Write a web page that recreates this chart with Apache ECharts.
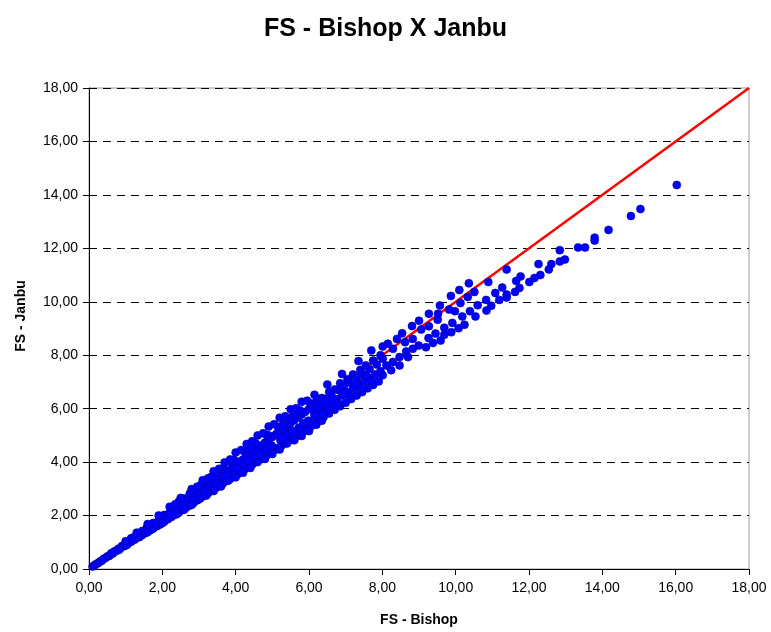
<!DOCTYPE html>
<html>
<head>
<meta charset="utf-8">
<script src="https://cdn.jsdelivr.net/npm/echarts@6/dist/echarts.min.js"></script>
<style>html,body{margin:0;padding:0;background:#fff}#c{width:771px;height:632px}</style>
</head>
<body>
<div id="c"></div>
<script>
// Data: [FS Bishop, FS Janbu]
const seg0to2 = [[0.10,0.09],[0.15,0.14],[0.20,0.19],[0.25,0.22],[0.30,0.28],[0.35,0.31],[0.40,0.38],[0.45,0.41],[0.50,0.47],[0.55,0.49],[0.60,0.57],[0.65,0.58],[0.70,0.66],[0.75,0.68],[0.80,0.76],[0.85,0.77],[0.90,0.86],[0.95,0.85],[1.00,0.95],[1.05,0.93],[1.10,1.05],[1.15,1.02],[1.20,1.14],[1.25,1.10],[1.30,1.24],[1.35,1.19],[1.40,1.33],[1.45,1.27],[1.50,1.43],[1.55,1.35],[1.60,1.52],[1.65,1.44],[1.70,1.62],[1.75,1.52],[1.80,1.71],[1.85,1.60],[1.90,1.82],[1.95,1.68],[2.00,1.93],[2.05,1.77],[0.62,0.60],[1.02,0.89],[1.38,1.20],[1.72,1.49],[1.58,1.55],[1.22,1.18],[0.82,0.72],[1.92,1.66],[2.10,1.86],[1.15,1.15],[1.45,1.42],[1.75,1.72],[2.05,2.02],[2.30,2.28],[1.25,1.16],[1.55,1.44],[1.85,1.72],[2.15,2.00],[2.40,2.23]];
const seg2to4 = [[2.10,2.02],[2.15,1.86],[2.20,2.10],[2.25,1.95],[2.30,2.20],[2.35,2.03],[2.40,2.30],[2.45,2.11],[2.50,2.40],[2.55,2.21],[2.60,2.49],[2.65,2.30],[2.70,2.58],[2.75,2.38],[2.80,2.69],[2.85,2.47],[2.90,2.79],[2.95,2.57],[3.00,2.88],[3.05,2.66],[3.10,2.98],[3.15,2.75],[3.20,3.08],[3.25,2.84],[3.30,3.18],[3.35,2.93],[3.40,3.28],[3.45,3.02],[3.50,3.38],[3.55,3.11],[3.60,3.49],[3.65,3.20],[3.70,3.58],[3.75,3.29],[3.80,3.69],[3.85,3.37],[3.90,3.79],[3.95,3.46],[4.00,3.90],[4.05,3.55],[2.22,2.02],[2.48,2.28],[2.72,2.49],[2.98,2.74],[3.22,2.97],[3.48,3.20],[3.72,3.44],[3.98,3.67],[2.60,2.64],[3.10,3.15],[3.60,3.68],[3.90,3.99],[2.45,2.52],[2.75,2.83],[3.05,3.14],[3.35,3.46],[3.65,3.76],[3.95,4.08],[2.55,2.37],[2.85,2.65],[3.15,2.93],[3.45,3.21],[3.75,3.49],[3.00,2.61],[3.80,3.31]];
const seg4to6 = [[4.10,4.02],[4.15,3.65],[4.20,4.10],[4.25,3.74],[4.30,4.22],[4.35,3.82],[4.40,4.31],[4.45,3.91],[4.50,4.42],[4.55,4.00],[4.60,4.52],[4.65,4.09],[4.70,4.62],[4.75,4.18],[4.80,4.73],[4.85,4.26],[4.90,4.83],[4.95,4.35],[5.00,4.94],[5.05,4.44],[5.10,5.04],[5.15,4.53],[5.20,5.15],[5.25,4.62],[5.30,5.25],[5.35,4.71],[5.40,5.36],[5.45,4.80],[5.50,5.46],[5.55,4.88],[5.60,5.57],[5.65,4.97],[5.70,5.67],[5.75,5.06],[5.80,5.78],[5.85,5.15],[5.90,5.88],[5.95,5.24],[6.00,5.99],[6.05,5.33],[4.22,3.94],[4.48,4.16],[4.72,4.37],[4.98,4.62],[5.22,4.83],[5.48,5.07],[5.72,5.29],[5.98,5.55],[4.35,4.08],[4.85,4.52],[5.35,4.98],[5.85,5.43],[4.40,4.50],[4.90,5.00],[5.30,5.42],[5.70,5.86],[6.05,6.20],[5.55,5.70],[4.25,4.39],[4.55,4.70],[4.85,5.01],[5.15,5.32],[5.45,5.63],[5.75,5.94],[4.05,3.77],[4.35,4.05],[4.65,4.33],[4.95,4.61],[5.25,4.89],[5.55,5.17],[5.85,5.45],[4.60,4.00],[5.40,4.70]];
const seg6to8 = [[6.10,6.08],[6.20,6.25],[6.30,6.22],[6.35,6.40],[6.45,6.36],[6.55,6.62],[6.60,6.50],[6.70,6.72],[6.80,6.70],[6.85,6.95],[6.95,6.85],[7.05,7.10],[7.10,6.98],[7.20,7.28],[7.30,7.15],[7.40,7.45],[7.45,7.30],[7.55,7.62],[7.65,7.48],[7.75,7.80],[7.85,7.65],[7.95,8.00],[6.15,5.82],[6.30,5.95],[6.45,6.08],[6.60,6.22],[6.75,6.35],[6.90,6.49],[7.05,6.62],[7.20,6.75],[7.35,6.88],[7.50,7.02],[7.65,7.15],[7.80,7.28],[7.95,7.40],[6.10,5.42],[6.25,5.55],[6.40,5.69],[6.55,5.82],[6.70,5.96],[6.85,6.09],[7.00,6.22],[7.15,6.36],[7.30,6.49],[7.45,6.62],[7.60,6.76],[7.75,6.89],[7.90,7.02],[6.20,5.70],[6.50,5.95],[6.80,6.20],[7.10,6.48],[7.40,6.75],[7.70,7.02],[6.15,5.73],[6.20,5.40],[6.25,6.00],[6.45,6.25],[6.65,6.40],[6.35,5.80],[6.55,6.00],[6.75,6.15],[6.95,6.55],[7.25,6.95],[7.55,7.25]];
const bandUpperEdge = [[1.00,1.04],[1.30,1.36],[1.60,1.68],[1.90,2.00],[2.20,2.33],[2.50,2.66],[2.80,2.99],[3.10,3.32],[3.40,3.66],[3.70,3.99],[4.00,4.36],[4.30,4.68],[4.60,5.00],[4.90,5.33],[5.20,5.66],[5.50,5.98],[5.80,6.26],[6.15,6.52],[6.50,6.90],[6.90,7.30],[7.35,7.78],[7.70,8.18],[2.35,2.42],[2.95,3.08],[3.55,3.75],[4.15,4.45],[4.75,5.08],[5.35,5.72],[5.95,6.30],[3.25,3.40],[3.85,4.10],[4.45,4.78],[5.05,5.42],[5.65,6.02]];
const bandLowerEdge = [[1.60,1.38],[2.00,1.72],[2.40,2.06],[2.80,2.40],[3.20,2.75],[3.60,3.09],[4.00,3.43],[4.40,3.78],[4.80,4.12],[5.20,4.47],[5.60,4.82],[6.00,5.16],[6.35,5.55],[2.60,2.23],[3.40,2.92],[4.20,3.60],[5.00,4.30],[5.80,4.98]];
const segAbove8 = [[16.03,14.37],[15.04,13.47],[14.78,13.21],[14.17,12.69],[13.79,12.40],[13.79,12.29],[13.53,12.03],[13.34,12.03],[12.84,11.93],[12.98,11.58],[12.84,11.51],[12.61,11.41],[12.54,11.21],[12.26,11.41],[12.31,11.00],[12.15,10.89],[12.01,10.74],[11.77,10.95],[11.65,10.78],[11.74,10.52],[11.62,10.37],[11.39,11.21],[11.39,10.27],[11.39,10.16],[11.27,10.53],[11.08,10.33],[11.19,10.07],[10.89,10.74],[10.83,10.07],[10.97,9.85],[10.51,10.37],[10.36,10.69],[10.33,10.18],[10.10,10.44],[9.87,10.22],[10.60,9.87],[10.84,9.67],[10.54,9.45],[10.39,9.65],[10.13,9.95],[10.18,9.45],[10.24,9.14],[9.98,9.65],[9.82,9.71],[9.57,9.86],[9.52,9.55],[9.27,9.55],[9.00,9.29],[8.81,9.09],[8.54,8.82],[8.15,8.43],[8.01,8.33],[9.91,9.21],[9.69,9.03],[9.51,9.33],[9.27,9.08],[9.06,8.96],[10.08,9.01],[9.88,8.86],[9.69,8.77],[9.45,8.81],[9.26,8.64],[9.59,8.55],[9.38,8.46],[9.19,8.30],[8.99,8.36],[8.83,8.24],[8.65,8.14],[8.83,8.61],[8.62,8.49],[8.40,8.61],[8.29,8.24],[8.47,7.93],[8.70,7.93],[8.29,7.75],[8.11,7.62],[8.01,7.87],[8.47,7.62],[8.24,7.44],[8.01,7.25]];
const lineBishop = [0, 18];
const lineJanbu = [0, 18];
const axisTicks = [0, 2, 4, 6, 8, 10, 12, 14, 16, 18];

const points = [].concat(seg0to2, seg2to4, seg4to6, seg6to8, bandUpperEdge, bandLowerEdge, segAbove8);
const fmt = v => v.toFixed(2).replace('.', ',');
const FONT = 'Liberation Sans, Arial, sans-serif';

const chart = echarts.init(document.getElementById('c'), null, {renderer: 'canvas'});
chart.setOption({
  animation: false,
  backgroundColor: '#fff',
  title: {
    text: 'FS - Bishop X Janbu', left: 'center', top: 12,
    textStyle: {fontFamily: FONT, fontSize: 25, fontWeight: 'bold', color: '#000'}
  },
  grid: {left: 89, right: 22, top: 88, bottom: 60, show: true, borderColor: '#999', borderWidth: 1},
  xAxis: {
    type: 'value', min: axisTicks[0], max: axisTicks[axisTicks.length - 1], interval: 2,
    name: 'FS - Bishop', nameLocation: 'middle', nameGap: 44,
    nameTextStyle: {fontFamily: FONT, fontSize: 14, fontWeight: 'bold', color: '#000'},
    axisLine: {lineStyle: {color: '#000', width: 1}},
    axisTick: {inside: false, length: 6, lineStyle: {color: '#000'}},
    axisLabel: {formatter: fmt, fontFamily: FONT, fontSize: 14, color: '#000', margin: 12},
    splitLine: {show: false}
  },
  yAxis: {
    type: 'value', min: axisTicks[0], max: axisTicks[axisTicks.length - 1], interval: 2,
    axisLine: {show: true, lineStyle: {color: '#000', width: 1}},
    axisTick: {show: true, inside: false, length: 6, lineStyle: {color: '#000'}},
    axisLabel: {formatter: fmt, fontFamily: FONT, fontSize: 14, color: '#000', margin: 11},
    splitLine: {show: true, lineStyle: {color: '#000', type: [8, 6], width: 1}}
  },
  graphic: [{
    type: 'text', left: 14, top: 'middle', rotation: Math.PI / 2,
    style: {text: 'FS - Janbu', fontFamily: FONT, fontSize: 14, fontWeight: 'bold', fill: '#000'}
  }],
  series: [
    {
      type: 'line', data: lineBishop.map((x, i) => [x, lineJanbu[i]]),
      symbol: 'none', lineStyle: {color: '#ff0000', width: 2.5}, z: 1
    },
    {
      type: 'scatter', data: points, symbol: 'circle', symbolSize: 8,
      itemStyle: {color: '#0000ff', borderColor: '#0000a0', borderWidth: 0.6, opacity: 1}, z: 2
    }
  ]
});
</script>
</body>
</html>
